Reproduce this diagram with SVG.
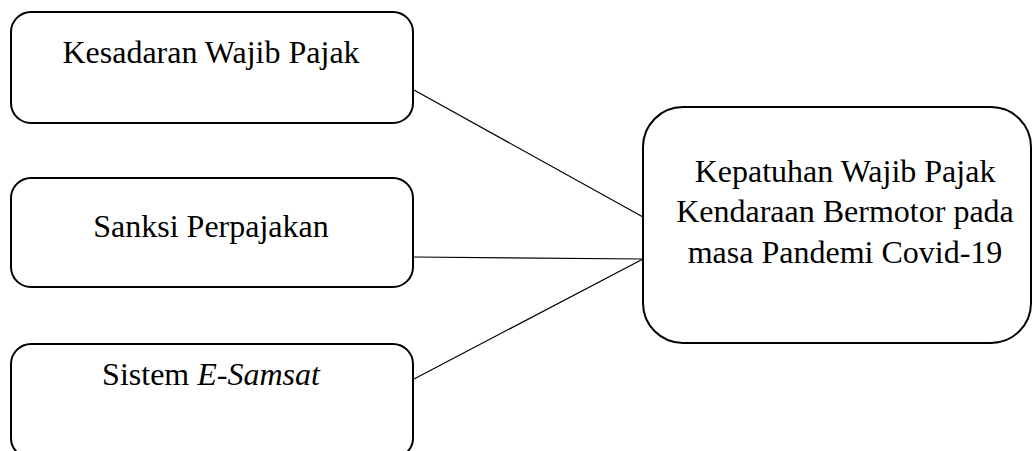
<svg xmlns="http://www.w3.org/2000/svg" width="1034" height="451" viewBox="0 0 1034 451">
<style>
.box{fill:#fff;stroke:#000;stroke-width:2}
.t{font-family:"Liberation Serif","Times New Roman",Times,serif;font-size:32px;fill:#000;text-anchor:middle}
.c{stroke:#000;stroke-width:1.2;fill:none}
</style>
<rect width="1034" height="451" fill="#fff"/>
<g id="connectors">
<line class="c" x1="414" y1="90" x2="643" y2="217"/>
<line class="c" x1="414" y1="257" x2="643" y2="259"/>
<line class="c" x1="414" y1="379" x2="643" y2="259"/>
</g>
<g id="n1">
<rect class="box" x="11" y="12" width="402" height="111" rx="20" ry="20"/>
<text class="t" x="211" y="63">Kesadaran Wajib Pajak</text>
</g>
<g id="n2">
<rect class="box" x="11" y="178" width="402" height="109" rx="20" ry="20"/>
<text class="t" x="211" y="237">Sanksi Perpajakan</text>
</g>
<g id="n3">
<rect class="box" x="11" y="344" width="402" height="114" rx="20" ry="20"/>
<text class="t" x="211" y="385">Sistem <tspan font-style="italic">E-Samsat</tspan></text>
</g>
<g id="n4">
<rect class="box" x="643" y="107" width="388" height="236" rx="40" ry="40"/>
<text class="t" x="845" y="182">Kepatuhan Wajib Pajak</text>
<text class="t" x="845" y="222">Kendaraan Bermotor pada</text>
<text class="t" x="845" y="263">masa Pandemi Covid-19</text>
</g>
</svg>
